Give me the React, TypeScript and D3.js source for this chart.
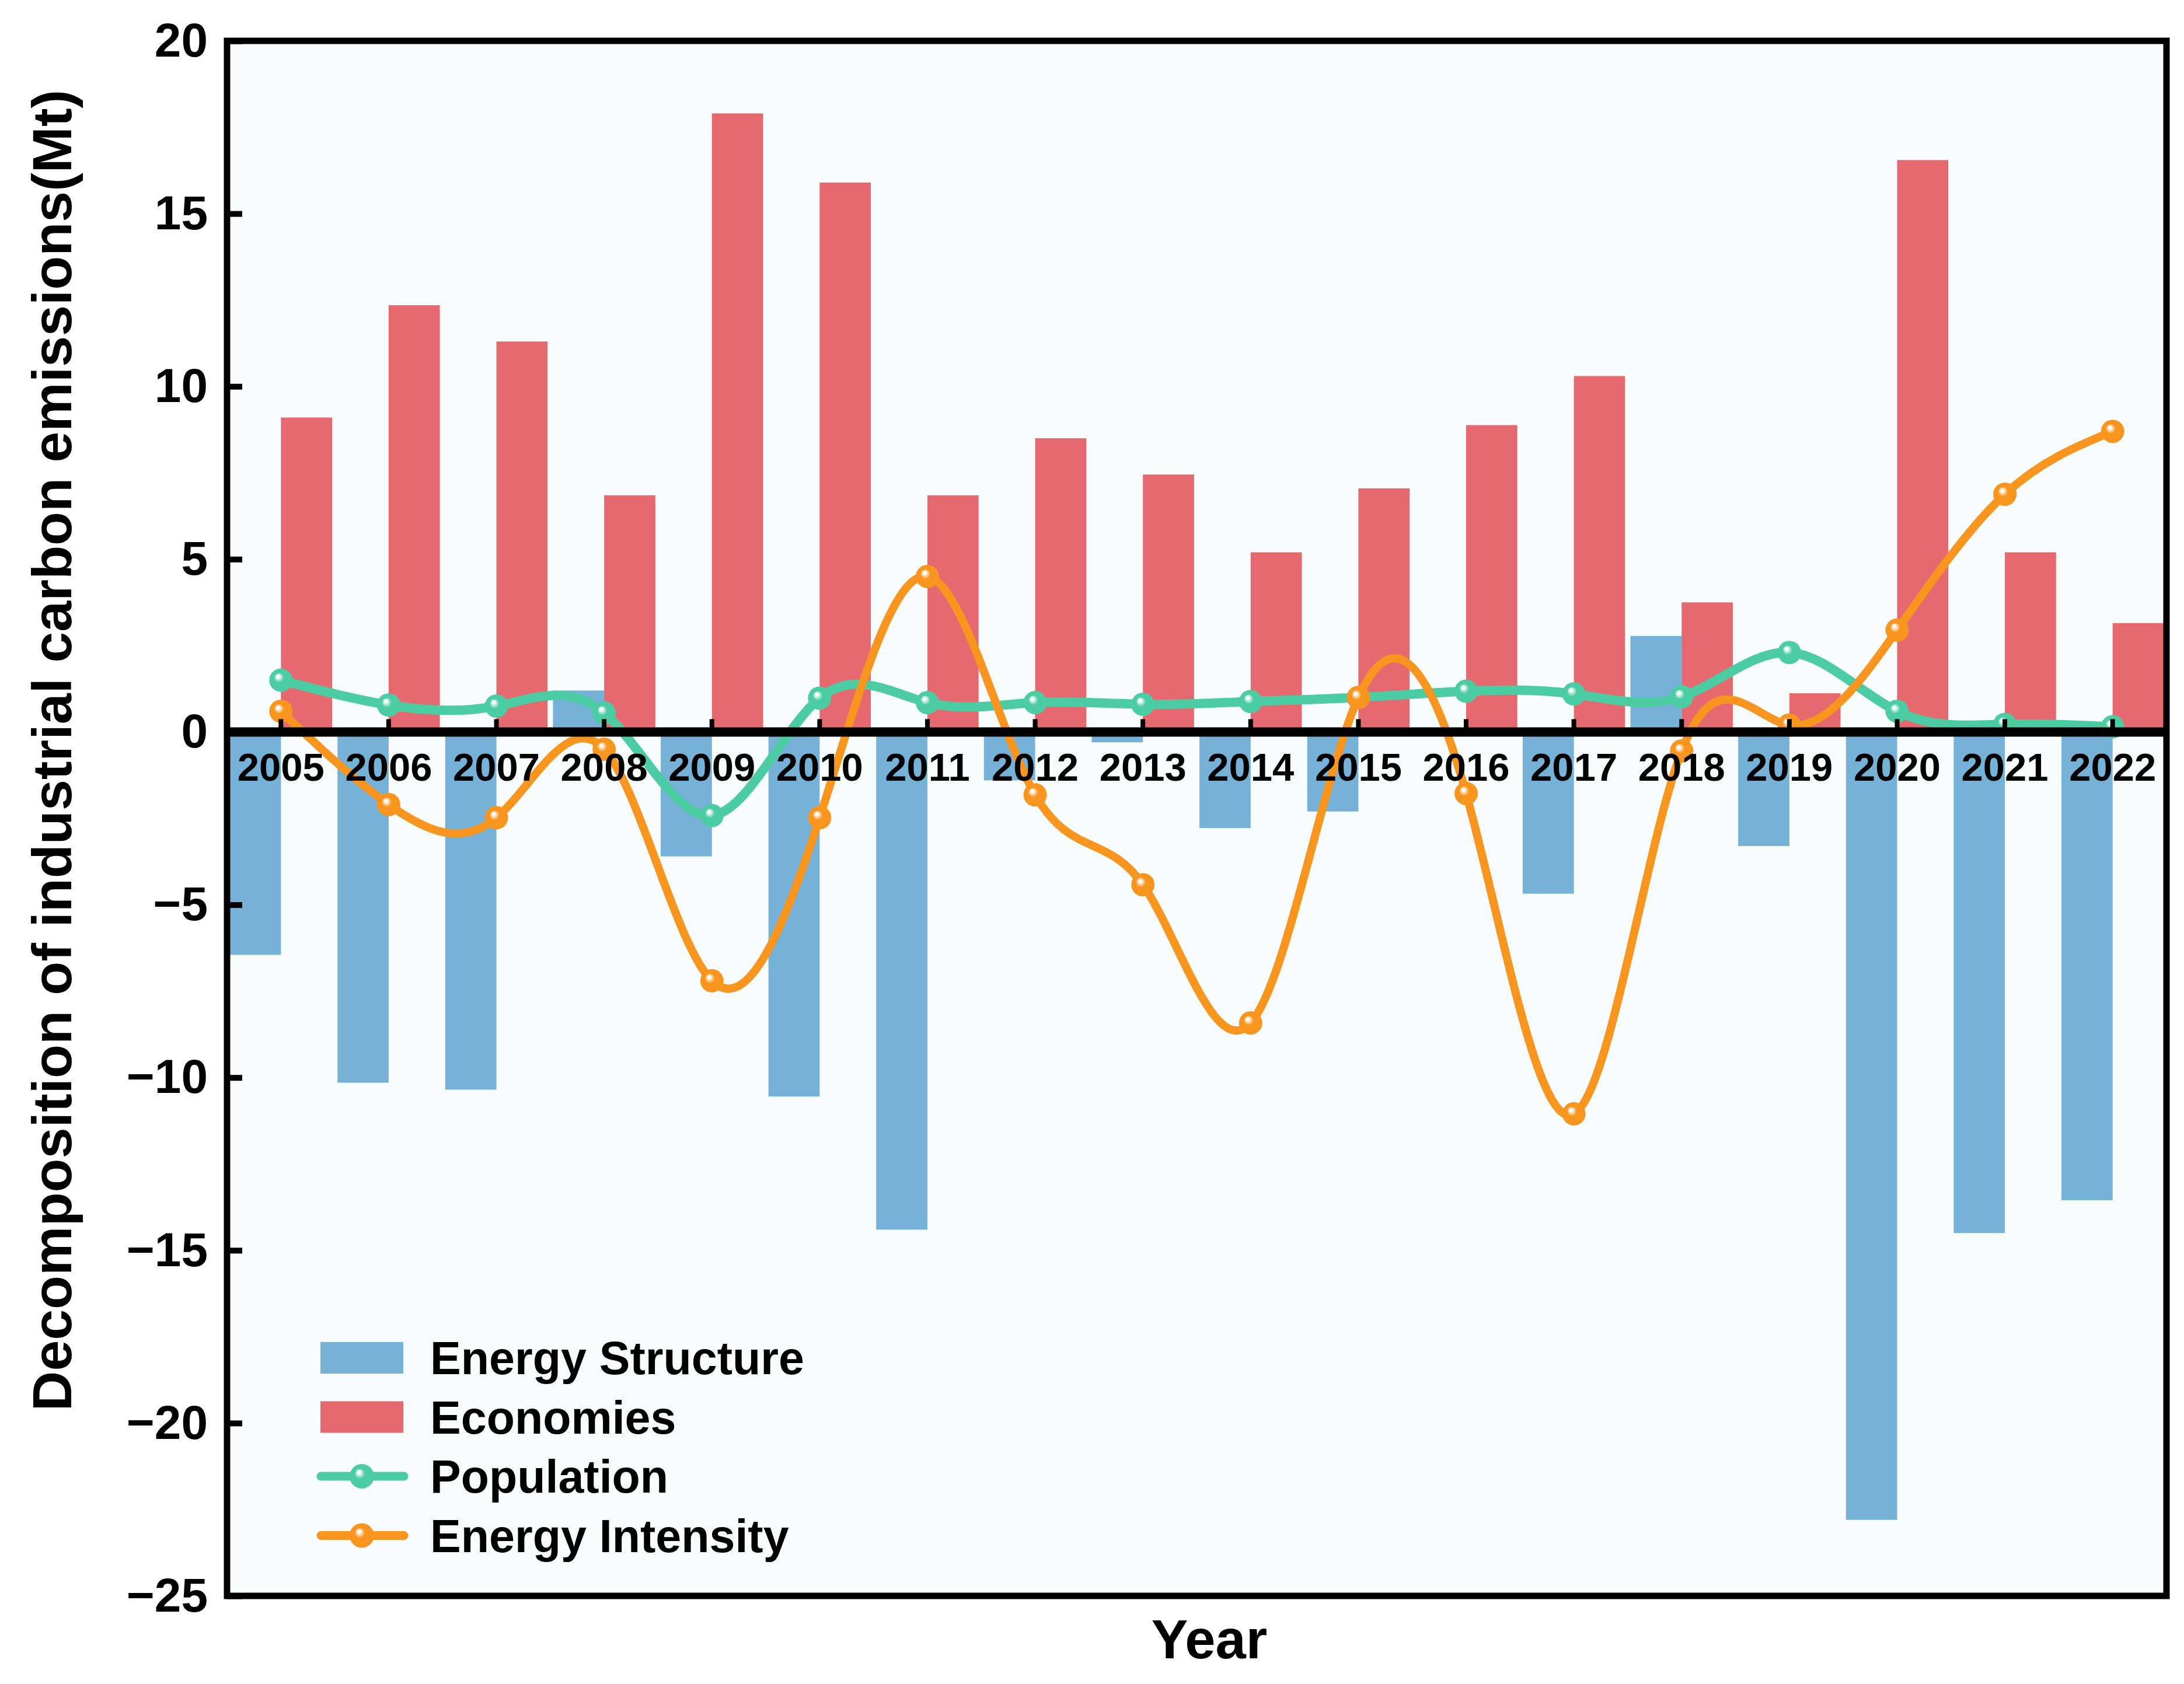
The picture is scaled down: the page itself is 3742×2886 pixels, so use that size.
import { useEffect, useRef } from 'react';
import * as d3 from 'd3';

const years = ['2005', '2006', '2007', '2008', '2009', '2010', '2011', '2012', '2013', '2014', '2015', '2016', '2017', '2018', '2019', '2020', '2021', '2022'];
const energyStructure = [-6.45, -10.15, -10.35, 1.2, -3.6, -10.55, -14.4, -1.4, -0.3, -2.78, -2.3, 0, -4.68, 2.78, -3.3, -22.8, -14.5, -13.55];
const economies = [9.1, 12.35, 11.3, 6.85, 17.9, 15.9, 6.85, 8.5, 7.45, 5.2, 7.05, 8.88, 10.3, 3.75, 1.12, 16.55, 5.2, 3.15];
const population = [1.5, 0.78, 0.75, 0.55, -2.42, 0.98, 0.85, 0.85, 0.8, 0.88, 1.0, 1.18, 1.1, 1.02, 2.3, 0.6, 0.22, 0.15];
const intensity = [0.6, -2.1, -2.48, -0.5, -7.2, -2.48, 4.5, -1.82, -4.42, -8.42, 1.0, -1.78, -11.05, -0.55, 0.2, 2.95, 6.88, 8.7];
const yTicks = [-25, -20, -15, -10, -5, 0, 5, 10, 15, 20];
const legendLabels = ['Energy Structure', 'Economies', 'Population', 'Energy Intensity'];

const COLORS = {
  blue: '#76b1d8',
  red: '#e5696f',
  green: '#4ccca3',
  orange: '#f8951f',
  bg: '#f9fcfd'
};

const FONT = "'Liberation Sans', Arial, sans-serif";

export default function App() {
  const svgRef = useRef<SVGSVGElement>(null);

  const width = 3742;
  const height = 2886;
  const margin = { top: 70, right: 30, bottom: 151, left: 389 };

  useEffect(() => {
    if (!svgRef.current) return;
    const svg = d3.select(svgRef.current);
    svg.selectAll('*').remove();

    const plotW = width - margin.left - margin.right;
    const plotH = height - margin.top - margin.bottom;

    const x = d3.scaleBand<string>()
      .domain(years)
      .range([margin.left, margin.left + plotW])
      .padding(0);
    const y = d3.scaleLinear()
      .domain([-25, 20])
      .range([margin.top + plotH, margin.top]);

    const bw = x.bandwidth();
    const barW = bw * 0.475;
    const cx = (yr: string) => x(yr)! + bw / 2;

    // marker gradients (small white glint, upper left)
    const defs = svg.append('defs');
    const grad = (id: string, color: string) => {
      const g = defs.append('radialGradient')
        .attr('id', id)
        .attr('cx', '50%').attr('cy', '50%').attr('r', '50%')
        .attr('fx', '36%').attr('fy', '32%');
      g.append('stop').attr('offset', '0%').attr('stop-color', '#ffffff');
      g.append('stop').attr('offset', '12%').attr('stop-color', '#ffffff').attr('stop-opacity', 0.95);
      g.append('stop').attr('offset', '42%').attr('stop-color', color);
      g.append('stop').attr('offset', '100%').attr('stop-color', color);
    };
    grad('mk-green', COLORS.green);
    grad('mk-orange', COLORS.orange);

    svg.append('rect')
      .attr('width', width).attr('height', height)
      .attr('fill', '#ffffff');

    svg.append('rect')
      .attr('x', margin.left).attr('y', margin.top)
      .attr('width', plotW).attr('height', plotH)
      .attr('fill', COLORS.bg);

    // bars
    svg.append('g')
      .selectAll('rect')
      .data(years)
      .join('rect')
      .attr('x', (d) => cx(d) - barW)
      .attr('y', (d, i) => y(Math.max(0, energyStructure[i])))
      .attr('width', barW)
      .attr('height', (d, i) => Math.abs(y(energyStructure[i]) - y(0)))
      .attr('fill', COLORS.blue);

    svg.append('g')
      .selectAll('rect')
      .data(years)
      .join('rect')
      .attr('x', (d) => cx(d))
      .attr('y', (d, i) => y(Math.max(0, economies[i])))
      .attr('width', barW)
      .attr('height', (d, i) => Math.abs(y(economies[i]) - y(0)))
      .attr('fill', COLORS.red);

    // spline lines
    const line = d3.line<number>()
      .x((d, i) => cx(years[i]))
      .y((d) => y(d))
      .curve(d3.curveNatural);

    const drawSeries = (vals: number[], color: string, grad: string, sw: number) => {
      svg.append('path')
        .datum(vals)
        .attr('fill', 'none')
        .attr('stroke', color)
        .attr('stroke-width', sw)
        .attr('stroke-linejoin', 'round')
        .attr('d', line);
      svg.append('g')
        .selectAll('circle')
        .data(vals)
        .join('circle')
        .attr('cx', (d, i) => cx(years[i]))
        .attr('cy', (d) => y(d))
        .attr('r', 20)
        .attr('fill', `url(#${grad})`);
    };
    drawSeries(population, COLORS.green, 'mk-green', 16);
    drawSeries(intensity, COLORS.orange, 'mk-orange', 14);

    // x axis on zero line
    svg.append('line')
      .attr('x1', margin.left).attr('x2', margin.left + plotW)
      .attr('y1', y(0)).attr('y2', y(0))
      .attr('stroke', '#000').attr('stroke-width', 16);

    const xAxis = svg.append('g')
      .attr('transform', `translate(0,${y(0)})`)
      .call(d3.axisBottom(x).tickSize(-22).tickPadding(36));
    xAxis.select('.domain').remove();
    xAxis.selectAll('line').attr('stroke', '#000').attr('stroke-width', 8);
    xAxis.selectAll('text')
      .attr('fill', '#000')
      .style('font-family', FONT)
      .style('font-weight', 'bold')
      .style('font-size', '67px');

    // y axis
    const yAxis = svg.append('g')
      .attr('transform', `translate(${margin.left},0)`)
      .call(d3.axisLeft(y).tickValues(yTicks).tickSize(-26).tickPadding(33));
    yAxis.select('.domain').remove();
    yAxis.selectAll('line').attr('stroke', '#000').attr('stroke-width', 10);
    yAxis.selectAll('text')
      .attr('fill', '#000')
      .style('font-family', FONT)
      .style('font-weight', 'bold')
      .style('font-size', '82px');

    // frame
    svg.append('rect')
      .attr('x', margin.left).attr('y', margin.top)
      .attr('width', plotW).attr('height', plotH)
      .attr('fill', 'none')
      .attr('stroke', '#000')
      .attr('stroke-width', 11);

    // axis titles
    svg.append('text')
      .attr('transform', `translate(122,1286) rotate(-90)`)
      .attr('text-anchor', 'middle')
      .style('font-family', FONT)
      .style('font-weight', 'bold')
      .style('font-size', '95px')
      .text('Decomposition of industrial carbon emissions(Mt)');

    svg.append('text')
      .attr('x', 2072).attr('y', 2842)
      .attr('text-anchor', 'middle')
      .style('font-family', FONT)
      .style('font-weight', 'bold')
      .style('font-size', '94px')
      .text('Year');

    // legend
    const lg = svg.append('g');
    const rowY = (i: number) => 2327 + i * 101.5;
    const keys = [
      { type: 'bar', color: COLORS.blue },
      { type: 'bar', color: COLORS.red },
      { type: 'line', color: COLORS.green, grad: 'mk-green' },
      { type: 'line', color: COLORS.orange, grad: 'mk-orange' }
    ];
    keys.forEach((k, i) => {
      const cy = rowY(i);
      if (k.type === 'bar') {
        lg.append('rect')
          .attr('x', 549).attr('y', cy - 27)
          .attr('width', 142).attr('height', 54)
          .attr('fill', k.color);
      } else {
        lg.append('line')
          .attr('x1', 550).attr('x2', 692)
          .attr('y1', cy).attr('y2', cy)
          .attr('stroke', k.color)
          .attr('stroke-width', 15)
          .attr('stroke-linecap', 'round');
        lg.append('circle')
          .attr('cx', 620).attr('cy', cy)
          .attr('r', 21)
          .attr('fill', `url(#${k.grad})`);
      }
      lg.append('text')
        .attr('x', 737).attr('y', cy + 28)
        .style('font-family', FONT)
        .style('font-weight', 'bold')
        .style('font-size', '79px')
        .text(legendLabels[i]);
    });
  }, []);

  return (
    <svg
      ref={svgRef}
      width={width}
      height={height}
      style={{ position: 'absolute', left: 0, top: 0, display: 'block' }}
    />
  );
}
